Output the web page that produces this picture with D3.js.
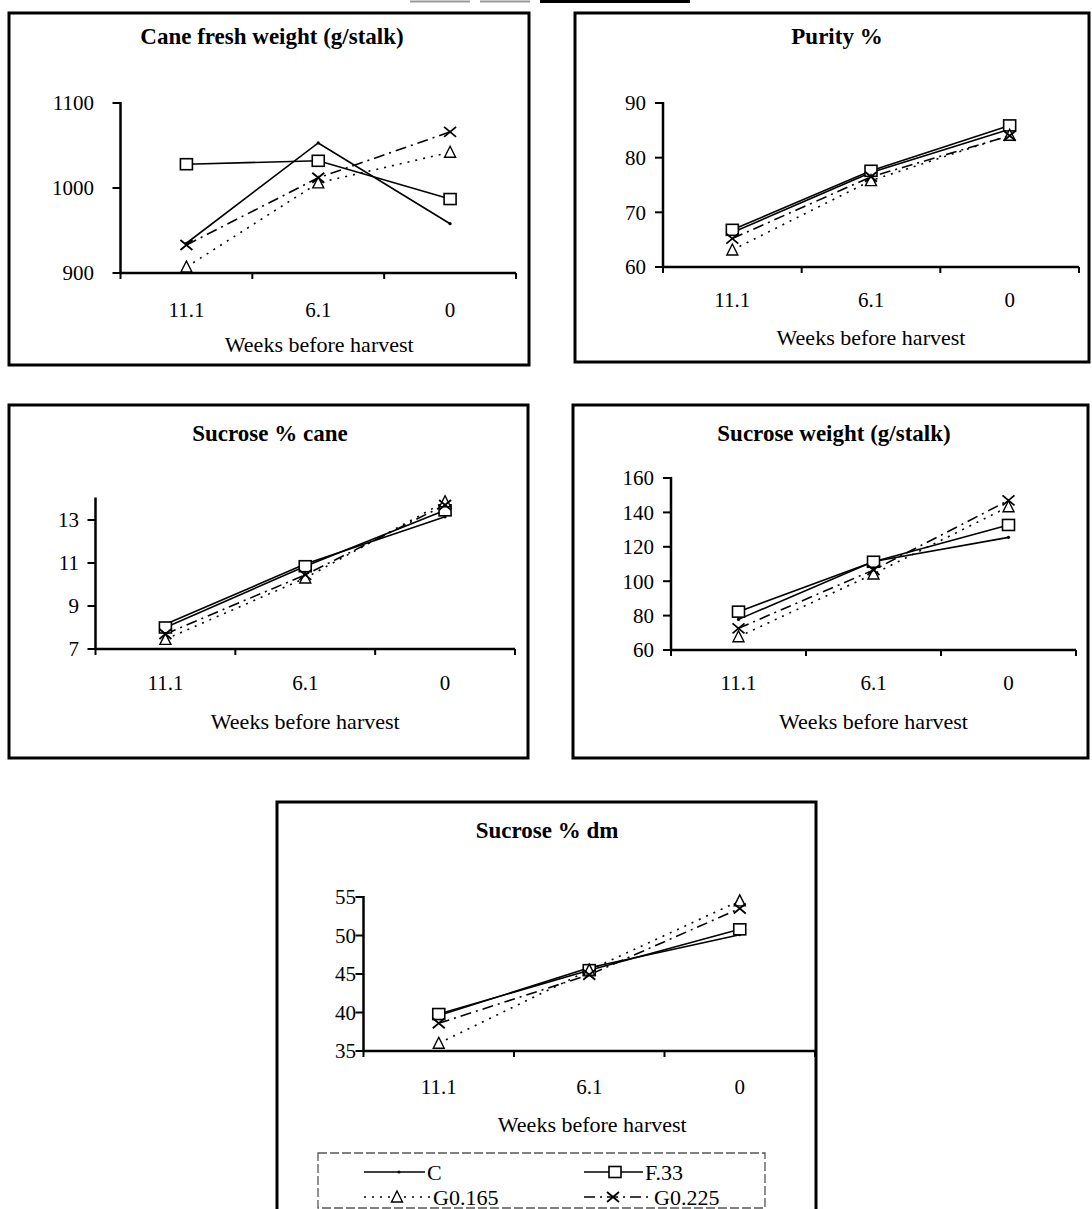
<!DOCTYPE html>
<html>
<head>
<meta charset="utf-8">
<script src="https://cdn.jsdelivr.net/npm/d3@7"></script>
<style>
body { margin: 0; background: #fff; }
svg { display: block; font-family: "Liberation Serif", "Times New Roman", serif; }
</style>
</head>
<body>
<script>
// categories: weeks before harvest
var weeks = ["11.1", "6.1", "0"];
var treatments = ["C", "F.33", "G0.165", "G0.225"];

// Cane fresh weight (g/stalk)
var freshC = [935, 1053, 958];
var freshF33 = [1028, 1032, 987];
var freshG165 = [907, 1006, 1042];
var freshG225 = [933, 1012, 1066];
var freshTicks = [900, 1000, 1100];

// Purity %
var purityC = [66.3, 77.3, 85.2];
var purityF33 = [66.8, 77.6, 85.9];
var purityG165 = [63.1, 75.8, 84.1];
var purityG225 = [65.2, 76.5, 84.0];
var purityTicks = [60, 70, 80, 90];

// Sucrose % cane
var caneC = [8.15, 10.95, 13.15];
var caneF33 = [8.0, 10.85, 13.45];
var caneG165 = [7.45, 10.3, 13.85];
var caneG225 = [7.7, 10.45, 13.7];
var caneTicks = [7, 9, 11, 13];

// Sucrose weight (g/stalk)
var sucWC = [77.8, 111.5, 125.5];
var sucWF33 = [82.3, 111.3, 132.7];
var sucWG165 = [67.7, 104.2, 143.3];
var sucWG225 = [72.6, 106.5, 147];
var sucWTicks = [60, 80, 100, 120, 140, 160];

// Sucrose % dm
var dmC = [39.6, 45.8, 50.1];
var dmF33 = [39.8, 45.5, 50.8];
var dmG165 = [36.0, 45.5, 54.5];
var dmG225 = [38.6, 44.9, 53.5];
var dmTicks = [35, 40, 45, 50, 55];

// line style + marker per treatment
var styles = {
  "C":      { dash: null,          marker: "dot" },
  "F.33":   { dash: null,          marker: "square" },
  "G0.165": { dash: "2,6",         marker: "triangle" },
  "G0.225": { dash: "11,5,2,5",    marker: "cross" }
};

var svg = d3.select("body").append("svg")
  .attr("width", 1092)
  .attr("height", 1209);

// bits of the caption above, cut off by the page edge
svg.append("line").attr("x1", 410).attr("x2", 470).attr("y1", 1.5).attr("y2", 1.5)
  .style("stroke", "#999").style("stroke-width", 2);
svg.append("line").attr("x1", 480).attr("x2", 530).attr("y1", 1.5).attr("y2", 1.5)
  .style("stroke", "#999").style("stroke-width", 2);
svg.append("line").attr("x1", 540).attr("x2", 690).attr("y1", 1.5).attr("y2", 1.5)
  .style("stroke", "#000").style("stroke-width", 3);

function drawMarker(g, kind, x, y) {
  if (kind == "square") {
    g.append("rect").attr("x", x - 6).attr("y", y - 5.5).attr("width", 12).attr("height", 11)
      .style("fill", "#fff").style("stroke", "#000").style("stroke-width", 1.6);
  } else if (kind == "triangle") {
    g.append("path").attr("d", "M" + x + "," + (y - 6) + "L" + (x + 5.5) + "," + (y + 5) + "L" + (x - 5.5) + "," + (y + 5) + "Z")
      .style("fill", "#fff").style("stroke", "#000").style("stroke-width", 1.4);
  } else if (kind == "cross") {
    g.append("path").attr("d", "M" + (x - 6) + "," + (y - 5) + "L" + (x + 6) + "," + (y + 5) + "M" + (x - 6) + "," + (y + 5) + "L" + (x + 6) + "," + (y - 5))
      .style("fill", "none").style("stroke", "#000").style("stroke-width", 1.8);
  } else {
    g.append("circle").attr("cx", x).attr("cy", y).attr("r", 1.6).style("fill", "#000");
  }
}

function drawPanel(p) {
  var g = svg.append("g");

  g.append("rect")
    .attr("x", p.frame[0]).attr("y", p.frame[1])
    .attr("width", p.frame[2] - p.frame[0]).attr("height", p.frame[3] - p.frame[1])
    .style("fill", "none").style("stroke", "#000").style("stroke-width", 3);

  g.append("text")
    .attr("x", p.titleX).attr("y", p.titleY)
    .attr("text-anchor", "middle")
    .style("font-size", "23px").style("font-weight", "bold")
    .text(p.title);

  var x = d3.scaleBand().domain(weeks).range([p.x0, p.x1]);
  var y = d3.scaleLinear().domain(p.domain).range([p.yBottom, p.yTop]);
  var yMin = y(p.domain[0]);

  // y axis
  g.append("line").attr("x1", p.x0).attr("x2", p.x0)
    .attr("y1", y(p.domain[1]) - 1).attr("y2", yMin + 1)
    .style("stroke", "#000").style("stroke-width", 2.5);
  p.ticks.forEach(function (t) {
    g.append("line").attr("x1", p.x0 - 8).attr("x2", p.x0)
      .attr("y1", y(t)).attr("y2", y(t))
      .style("stroke", "#000").style("stroke-width", 2);
    g.append("text").attr("x", p.labelX).attr("y", y(t)).attr("dy", "0.35em")
      .attr("text-anchor", "end").style("font-size", "21px").text(t);
  });

  // x axis, ticks between categories
  g.append("line").attr("x1", p.x0).attr("x2", p.x1)
    .attr("y1", yMin).attr("y2", yMin)
    .style("stroke", "#000").style("stroke-width", 2.5);
  var bounds = weeks.map(function (w) { return x(w); }).concat([p.x1]);
  bounds.forEach(function (bx) {
    g.append("line").attr("x1", bx).attr("x2", bx)
      .attr("y1", yMin).attr("y2", yMin + 6)
      .style("stroke", "#000").style("stroke-width", 2);
  });
  weeks.forEach(function (w) {
    g.append("text").attr("x", x(w) + x.bandwidth() / 2).attr("y", p.tickY)
      .attr("text-anchor", "middle").style("font-size", "21px").text(w);
  });
  g.append("text").attr("x", p.x0 + (p.x1 - p.x0) / 2 + p.weeksShift).attr("y", p.weeksY)
    .attr("text-anchor", "middle").style("font-size", "22px").text("Weeks before harvest");

  var line = d3.line()
    .x(function (d, i) { return x(weeks[i]) + x.bandwidth() / 2; })
    .y(function (d) { return y(d); });

  treatments.forEach(function (name, k) {
    var st = styles[name];
    g.append("path").datum(p.series[k]).attr("d", line)
      .style("fill", "none").style("stroke", "#000").style("stroke-width", 1.6)
      .style("stroke-dasharray", st.dash);
  });
  treatments.forEach(function (name, k) {
    p.series[k].forEach(function (v, i) {
      drawMarker(g, styles[name].marker, x(weeks[i]) + x.bandwidth() / 2, y(v));
    });
  });
}

var panels = [
  { title: "Cane fresh weight (g/stalk)", titleX: 272, titleY: 44,
    frame: [9, 13, 529, 365], x0: 120.5, x1: 516, yTop: 103, yBottom: 273,
    domain: [900, 1100], ticks: freshTicks, labelX: 94, tickY: 317, weeksY: 352, weeksShift: 1,
    series: [freshC, freshF33, freshG165, freshG225] },
  { title: "Purity %", titleX: 837, titleY: 44,
    frame: [575, 13, 1089, 362], x0: 663, x1: 1079, yTop: 103, yBottom: 267,
    domain: [60, 90], ticks: purityTicks, labelX: 646, tickY: 307, weeksY: 345, weeksShift: 0,
    series: [purityC, purityF33, purityG165, purityG225] },
  { title: "Sucrose % cane", titleX: 270, titleY: 441,
    frame: [9, 405, 528, 758], x0: 95.5, x1: 515, yTop: 498.5, yBottom: 649,
    domain: [7, 14], ticks: caneTicks, labelX: 79, tickY: 690, weeksY: 729, weeksShift: 0,
    series: [caneC, caneF33, caneG165, caneG225] },
  { title: "Sucrose weight (g/stalk)", titleX: 834, titleY: 441,
    frame: [573, 405, 1088, 758], x0: 671, x1: 1076, yTop: 478, yBottom: 650,
    domain: [60, 160], ticks: sucWTicks, labelX: 654, tickY: 690, weeksY: 729, weeksShift: 0,
    series: [sucWC, sucWF33, sucWG165, sucWG225] },
  { title: "Sucrose % dm", titleX: 547, titleY: 838,
    frame: [277, 802, 816, 1220], x0: 363.5, x1: 815, yTop: 897, yBottom: 1051,
    domain: [35, 55], ticks: dmTicks, labelX: 356, tickY: 1094, weeksY: 1132, weeksShift: 3,
    series: [dmC, dmF33, dmG165, dmG225] }
];

panels.forEach(drawPanel);

// legend under the last panel
var leg = svg.append("g");
leg.append("rect").attr("x", 318).attr("y", 1153).attr("width", 447).attr("height", 55)
  .style("fill", "none").style("stroke", "#555").style("stroke-width", 1.3)
  .style("stroke-dasharray", "9,3");
var legendPos = [
  { x1: 364, x2: 425, mx: 399, tx: 427, y: 1172 },
  { x1: 584, x2: 643, mx: 615, tx: 645, y: 1172 },
  { x1: 364, x2: 431, mx: 397, tx: 433, y: 1197 },
  { x1: 584, x2: 649, mx: 613, tx: 654, y: 1197 }
];
treatments.forEach(function (name, k) {
  var lp = legendPos[k], st = styles[name];
  leg.append("line").attr("x1", lp.x1).attr("x2", lp.x2).attr("y1", lp.y).attr("y2", lp.y)
    .style("stroke", "#000").style("stroke-width", 1.6).style("stroke-dasharray", st.dash);
  drawMarker(leg, st.marker, lp.mx, lp.y);
  leg.append("text").attr("x", lp.tx).attr("y", lp.y).attr("dy", "0.35em")
    .style("font-size", "22px").text(name);
});
</script>
</body>
</html>
